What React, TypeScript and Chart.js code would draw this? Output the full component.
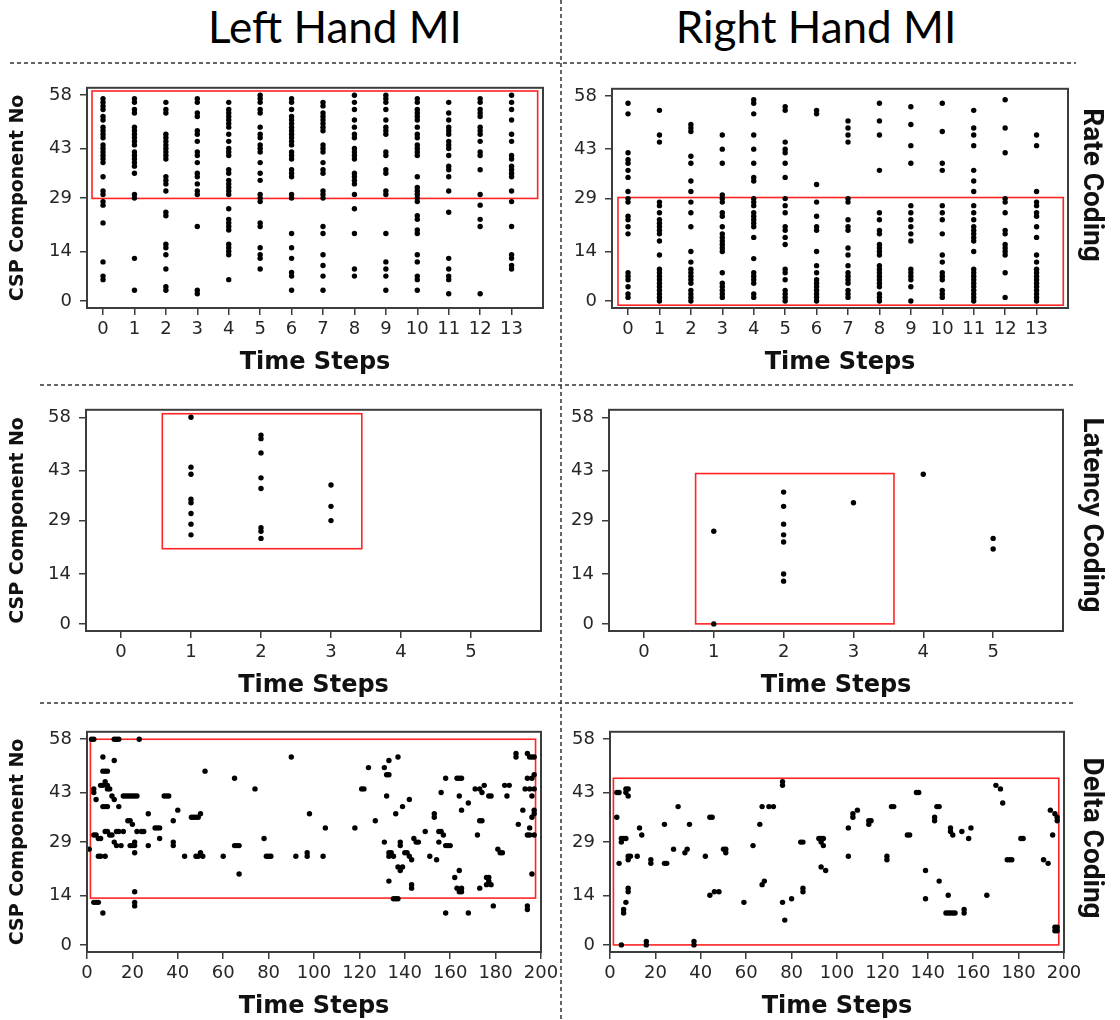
import React, { useEffect, useRef } from "react";
import { Chart, registerables } from "chart.js";

Chart.register(...registerables);

// ---------- tick labels ----------
const yTicks = [0, 14, 29, 43, 58];
const rateXTicks = [0, 1, 2, 3, 4, 5, 6, 7, 8, 9, 10, 11, 12, 13];
const latencyXTicks = [0, 1, 2, 3, 4, 5];
const deltaXTicks = [0, 20, 40, 60, 80, 100, 120, 140, 160, 180, 200];

const colTitles = ["Left Hand MI", "Right Hand MI"];
const rowTitles = ["Rate Coding", "Latency Coding", "Delta Coding"];

// ---------- Rate coding: spiking CSP components per time step ----------
const rateLeft: number[][] = [
  [57, 56, 55, 54, 52, 51, 49, 48, 47, 46, 44, 43, 42, 41, 40, 39, 35, 31, 30, 28, 27, 22, 11, 7, 6],
  [57, 56, 54, 53, 49, 48, 47, 46, 45, 44, 42, 41, 40, 39, 38, 36, 30, 29, 12, 3],
  [56, 54, 53, 47, 46, 45, 44, 43, 42, 41, 40, 35, 34, 33, 31, 25, 24, 16, 15, 13, 9, 4, 3],
  [57, 56, 53, 52, 48, 47, 45, 42, 41, 39, 36, 35, 33, 31, 30, 21, 3, 2],
  [56, 54, 53, 52, 51, 50, 49, 47, 45, 43, 42, 41, 37, 36, 34, 33, 32, 31, 30, 26, 23, 22, 21, 20, 16, 15, 14, 13, 6],
  [58, 57, 56, 54, 53, 49, 47, 46, 44, 43, 42, 39, 36, 34, 30, 29, 28, 22, 21, 15, 13, 12, 9],
  [57, 56, 54, 52, 51, 50, 49, 48, 47, 46, 45, 44, 42, 41, 40, 37, 36, 35, 30, 29, 19, 15, 12, 8, 7, 3],
  [56, 55, 53, 52, 51, 50, 49, 48, 44, 43, 42, 39, 37, 36, 31, 30, 29, 21, 19, 13, 10, 7, 3],
  [58, 56, 54, 51, 49, 47, 46, 43, 42, 41, 40, 36, 35, 34, 33, 30, 26, 19, 9, 7],
  [58, 57, 56, 54, 51, 49, 48, 47, 42, 41, 37, 36, 31, 30, 19, 11, 9, 7, 3],
  [57, 56, 54, 53, 52, 51, 49, 47, 46, 44, 43, 42, 41, 35, 32, 31, 30, 29, 28, 24, 23, 20, 19, 13, 11, 7, 6, 3],
  [56, 53, 51, 49, 48, 47, 45, 44, 43, 41, 38, 37, 35, 31, 25, 12, 9, 7, 6, 2],
  [57, 56, 54, 53, 52, 49, 48, 47, 45, 42, 41, 37, 30, 27, 23, 21, 2],
  [58, 56, 54, 51, 47, 45, 41, 40, 38, 37, 36, 35, 31, 28, 21, 13, 12, 10, 9],
];

const rateRight: number[][] = [
  [56, 53, 42, 40, 39, 37, 35, 31, 29, 28, 24, 23, 21, 19, 8, 7, 6, 4, 2, 1],
  [54, 47, 45, 28, 27, 25, 23, 22, 21, 20, 19, 17, 13, 9, 8, 7, 6, 5, 4, 3, 2, 1, 0],
  [50, 49, 48, 41, 39, 34, 31, 28, 25, 21, 14, 11, 9, 8, 7, 6, 5, 3, 2, 1, 0],
  [47, 43, 39, 30, 29, 28, 25, 24, 21, 19, 18, 17, 16, 15, 14, 8, 5, 4, 3, 2, 1],
  [57, 56, 53, 47, 43, 39, 35, 34, 29, 28, 27, 25, 24, 23, 22, 21, 18, 12, 8, 7, 6, 5, 2, 1],
  [55, 54, 45, 43, 42, 39, 35, 29, 27, 25, 21, 20, 18, 16, 9, 8, 6, 3, 2, 1, 0],
  [54, 53, 33, 28, 24, 21, 20, 14, 10, 8, 6, 5, 4, 3, 2, 1, 0],
  [51, 49, 47, 45, 29, 28, 23, 21, 20, 15, 13, 10, 8, 7, 6, 5, 3, 2, 1],
  [56, 51, 47, 37, 25, 23, 20, 19, 16, 15, 14, 13, 10, 9, 8, 7, 6, 5, 4, 2, 1, 0],
  [55, 50, 44, 39, 27, 25, 23, 21, 19, 17, 9, 8, 7, 6, 4, 0],
  [56, 48, 39, 37, 27, 25, 23, 19, 13, 11, 8, 7, 6, 3, 2, 1],
  [54, 49, 47, 44, 37, 34, 31, 27, 25, 23, 21, 20, 19, 18, 17, 14, 9, 8, 7, 6, 5, 4, 3, 2, 1, 0],
  [57, 49, 42, 29, 28, 25, 20, 19, 16, 15, 14, 13, 8, 1],
  [47, 44, 31, 28, 27, 25, 24, 21, 18, 13, 11, 9, 8, 7, 6, 5, 4, 3, 2, 1, 0],
];

// ---------- Latency coding ----------
const latencyLeft: number[][] = [
  [],
  [58, 44, 42, 35, 34, 31, 28, 25],
  [53, 52, 48, 41, 38, 27, 26, 24],
  [39, 33, 29],
  [],
  [],
];
const latencyRight: number[][] = [
  [],
  [26, 0],
  [37, 33, 28, 25, 23, 14, 12],
  [34],
  [42],
  [24, 21],
];

// ---------- Delta coding: [time step, component] ----------
const deltaLeft: [number, number][] = [
  [2, 58], [3, 58], [12, 58], [13, 58], [14, 58], [23, 58],
  [3, 44], [3, 43], [1, 27], [4, 41], [3, 31], [4, 31], [5, 30], [6, 30], [3, 12], [4, 12], [5, 12],
  [5, 25], [6, 25], [8, 25], [7, 9], [7, 53], [7, 49], [8, 49], [9, 49], [7, 45], [8, 46], [9, 45],
  [6, 45], [9, 44], [10, 44], [7, 39], [8, 39], [9, 39], [8, 32], [9, 32], [10, 31], [11, 31],
  [12, 52], [11, 42], [12, 41], [14, 39], [12, 29], [13, 28], [15, 28], [13, 32], [14, 32], [16, 32],
  [16, 42], [17, 42], [18, 42], [19, 42], [20, 42], [21, 42], [22, 42], [18, 35], [19, 35], [20, 34],
  [19, 28], [20, 28], [21, 28], [21, 29], [21, 26], [21, 15], [21, 12], [21, 11], [22, 32], [24, 32],
  [25, 32], [27, 37], [27, 28], [30, 33], [31, 33], [32, 33], [32, 30], [34, 42], [35, 42], [36, 42],
  [38, 29], [38, 28], [38, 35], [40, 38], [43, 25], [46, 36], [47, 36], [48, 36], [49, 36], [50, 37],
  [48, 25], [49, 25], [50, 26], [51, 25], [52, 49], [60, 25], [65, 47], [65, 28], [66, 28], [67, 28],
  [67, 20], [74, 44], [78, 30], [79, 25], [80, 25], [81, 25], [90, 53], [92, 25], [97, 26], [97, 25],
  [98, 37], [104, 25], [105, 33], [118, 33], [121, 44], [122, 44], [124, 50], [127, 35], [131, 50],
  [131, 29], [133, 52], [137, 53], [132, 48], [133, 48], [132, 42], [133, 26], [134, 26], [133, 25],
  [135, 25], [133, 18], [136, 37], [135, 13], [136, 13], [137, 13], [137, 22], [138, 21], [139, 22],
  [138, 29], [138, 28], [139, 39], [140, 26], [141, 26], [142, 25], [143, 24], [142, 41], [143, 17],
  [143, 16], [144, 30], [145, 29], [146, 29], [149, 32], [151, 25], [153, 37], [153, 36], [154, 24],
  [155, 32], [156, 32], [157, 31], [155, 29], [156, 43], [158, 28], [159, 28], [160, 28], [158, 47],
  [158, 9], [162, 19], [163, 47], [164, 47], [165, 47], [164, 42], [164, 21], [163, 16], [164, 15],
  [165, 16], [165, 15], [165, 38], [168, 40], [168, 9], [171, 44], [173, 44], [172, 31], [173, 35],
  [174, 35], [173, 16], [174, 43], [175, 45], [176, 19], [177, 18], [178, 17], [176, 17], [177, 19],
  [177, 42], [178, 42], [179, 11], [181, 27], [182, 26], [183, 26], [184, 45], [186, 45], [185, 42],
  [189, 54], [189, 53], [190, 34], [192, 38], [194, 11], [194, 10], [194, 54], [195, 53], [196, 53],
  [197, 53], [194, 47], [196, 47], [197, 48], [193, 44], [195, 44], [197, 44], [196, 42], [197, 38],
  [197, 37], [196, 36], [195, 33], [194, 31], [195, 31], [197, 31], [196, 20],
];

const deltaRight: [number, number][] = [
  [3, 43], [4, 43], [7, 44], [8, 44], [7, 43], [8, 42], [3, 36], [5, 30], [6, 30], [7, 30], [5, 29],
  [4, 23], [8, 25], [9, 25], [8, 24], [8, 16], [8, 15], [7, 12], [6, 10], [6, 9], [5, 0], [12, 25],
  [13, 33], [14, 31], [16, 1], [16, 0], [18, 24], [18, 23], [24, 23], [25, 23], [24, 34], [28, 27],
  [30, 39], [33, 26], [34, 27], [35, 34], [37, 1], [37, 0], [42, 25], [44, 36], [45, 36], [44, 14],
  [46, 15], [48, 15], [50, 27], [51, 27], [51, 26], [59, 12], [63, 28], [66, 34], [67, 39], [67, 17],
  [68, 18], [70, 39], [72, 39], [76, 46], [76, 45], [76, 12], [77, 7], [80, 13], [84, 29], [85, 29],
  [85, 16], [85, 15], [92, 30], [93, 30], [93, 29], [94, 28], [94, 30], [93, 22], [95, 21], [105, 33],
  [105, 25], [107, 37], [107, 36], [109, 38], [114, 35], [115, 35], [114, 34], [122, 25], [122, 24],
  [124, 39], [125, 39], [131, 31], [132, 31], [135, 43], [136, 43], [139, 21], [139, 13], [143, 36],
  [143, 35], [144, 39], [145, 39], [145, 18], [149, 14], [148, 9], [149, 9], [150, 9], [151, 9],
  [152, 9], [150, 33], [150, 32], [151, 31], [155, 32], [156, 10], [156, 9], [158, 30], [159, 33],
  [166, 14], [170, 45], [172, 44], [173, 40], [175, 24], [176, 24], [177, 24], [181, 30], [182, 30],
  [191, 24], [193, 23], [194, 38], [196, 37], [197, 36], [197, 35], [195, 31], [196, 5], [197, 5],
  [196, 4], [197, 4],
];

// ---------- highlighted regions: [xMin, xMax, yMin, yMax] in data units ----------
const rateLeftBox = [-0.35, 13.83, 28.9, 59.2];
const rateRightBox = [-0.32, 13.85, -1.2, 29.3];
const latencyLeftBox = [0.59, 3.44, 21.1, 59.0];
const latencyRightBox = [0.74, 3.58, 0, 42.2];
const deltaLeftBox = [1.5, 197.6, 13.2, 58.0];
const deltaRightBox = [1.5, 197.7, 0, 47.0];

// axis ranges
const rateXRange = [-0.51, 14.0];
const latencyXRange = [-0.5, 6.0];
const deltaXRange = [0, 200];
const yRange = [-2, 60.1];

const columnsToPoints = (cols: number[][]) =>
  cols.flatMap((ys, x) => ys.map((y) => ({ x, y })));
const pairsToPoints = (pairs: [number, number][]) => pairs.map(([x, y]) => ({ x, y }));

const frameBoxPlugin = {
  id: "frameBox",
  beforeDatasetsDraw(chart: any, _args: any, opts: any) {
    const box = opts && opts.box;
    if (!box) return;
    const { ctx } = chart;
    const xs = chart.scales.x;
    const ys = chart.scales.y;
    const x1 = xs.getPixelForValue(box[0]);
    const x2 = xs.getPixelForValue(box[1]);
    const y1 = ys.getPixelForValue(box[3]);
    const y2 = ys.getPixelForValue(box[2]);
    ctx.save();
    ctx.strokeStyle = "#ff2424";
    ctx.lineWidth = 1.6;
    ctx.strokeRect(x1, y1, x2 - x1, y2 - y1);
    ctx.restore();
  },
  afterDraw(chart: any) {
    const { ctx, chartArea: a } = chart;
    ctx.save();
    ctx.strokeStyle = "#3c3c3c";
    ctx.lineWidth = 2;
    ctx.strokeRect(a.left, a.top, a.right - a.left, a.bottom - a.top);
    ctx.restore();
  },
};

type Area = { l: number; t: number; r: number; b: number };

function Panel(props: {
  area: Area;
  canvasLeft: number;
  points: { x: number; y: number }[];
  xRange: number[];
  xTicks: number[];
  box: number[];
  yTitle: boolean;
}) {
  const { area, canvasLeft, points, xRange, xTicks, box, yTitle } = props;
  const ref = useRef<HTMLCanvasElement>(null);
  const T = 14;
  const R = 26;
  const B = 72;
  const L = area.l - canvasLeft;
  const width = area.r + R - canvasLeft;
  const height = area.b + B - (area.t - T);

  useEffect(() => {
    const tickFont = { family: "'DejaVu Sans', sans-serif", size: 18 };
    const chart = new Chart(ref.current as HTMLCanvasElement, {
      type: "scatter",
      data: {
        datasets: [
          {
            data: points,
            pointRadius: 2.7,
            pointHoverRadius: 2.7,
            backgroundColor: "#000",
            borderWidth: 0,
          },
        ],
      },
      options: {
        responsive: false,
        animation: false,
        devicePixelRatio: 1,
        events: [],
        layout: { padding: { left: 0, top: T, right: R, bottom: 0 } },
        plugins: {
          legend: { display: false },
          tooltip: { enabled: false },
          frameBox: { box },
        } as any,
        scales: {
          x: {
            type: "linear",
            min: xRange[0],
            max: xRange[1],
            afterBuildTicks: (s: any) => {
              s.ticks = xTicks.map((v) => ({ value: v }));
            },
            afterFit: (s: any) => {
              s.height = B;
            },
            grid: {
              drawOnChartArea: false,
              drawTicks: true,
              tickLength: 7,
              color: "#3c3c3c",
              lineWidth: 1.5,
            },
            border: { display: false },
            ticks: {
              padding: 4,
              color: "#262626",
              font: tickFont,
              autoSkip: false,
              maxRotation: 0,
              callback: (v: any) => String(v),
            },
            title: {
              display: true,
              text: "Time Steps",
              color: "#111",
              font: { family: "'DejaVu Sans', sans-serif", size: 24, weight: "bold" },
              padding: { top: 0, bottom: 3 },
            },
          },
          y: {
            type: "linear",
            min: yRange[0],
            max: yRange[1],
            afterBuildTicks: (s: any) => {
              s.ticks = yTicks.map((v) => ({ value: v }));
            },
            afterFit: (s: any) => {
              s.width = L;
            },
            grid: {
              drawOnChartArea: false,
              drawTicks: true,
              tickLength: 7,
              color: "#3c3c3c",
              lineWidth: 1.5,
            },
            border: { display: false },
            ticks: {
              padding: 8,
              color: "#262626",
              font: tickFont,
              autoSkip: false,
              callback: (v: any) => String(v),
            },
            title: {
              display: yTitle,
              text: "CSP Component No",
              color: "#111",
              font: { family: "'DejaVu Sans', sans-serif", size: 19, weight: "bold" },
              padding: { top: 7, bottom: 0 },
            },
          },
        },
      } as any,
      plugins: [frameBoxPlugin as any],
    });
    return () => chart.destroy();
  }, []);

  return (
    <canvas
      ref={ref}
      width={width}
      height={height}
      style={{
        position: "absolute",
        left: canvasLeft,
        top: area.t - T,
        width,
        height,
      }}
    />
  );
}

export default function App() {
  const titleStyle: React.CSSProperties = {
    position: "absolute",
    top: 4,
    transform: "translateX(-50%)",
    fontFamily: "Lato, 'Open Sans', sans-serif",
    fontSize: 44,
    lineHeight: "44px",
    color: "#000",
    whiteSpace: "nowrap",
  };
  const rowStyle = (cy: number): React.CSSProperties => ({
    position: "absolute",
    left: 1093,
    top: cy,
    transform: "translate(-50%, -50%) rotate(90deg)",
    fontFamily: "Roboto, 'Liberation Sans', sans-serif",
    fontWeight: 700,
    fontSize: 28,
    lineHeight: "30px",
    color: "#111",
    whiteSpace: "nowrap",
  });
  const dash = { stroke: "#333", strokeWidth: 1.5, strokeDasharray: "4 3" };

  return (
    <div
      style={{
        position: "absolute",
        left: 0,
        top: 0,
        width: 1120,
        height: 1020,
        background: "#fff",
        overflow: "hidden",
      }}
    >
      <svg width={1120} height={1020} style={{ position: "absolute", left: 0, top: 0 }}>
        <line x1={561} y1={0} x2={561} y2={1020} {...dash} />
        <line x1={10} y1={63} x2={1076} y2={63} {...dash} />
        <line x1={40} y1={385} x2={1076} y2={385} {...dash} />
        <line x1={40} y1={703} x2={1076} y2={703} {...dash} />
      </svg>

      <div style={{ ...titleStyle, left: 335 }}>{colTitles[0]}</div>
      <div style={{ ...titleStyle, left: 816 }}>{colTitles[1]}</div>

      <Panel
        area={{ l: 87, t: 83, r: 543, b: 308 }}
        canvasLeft={0}
        points={columnsToPoints(rateLeft)}
        xRange={rateXRange}
        xTicks={rateXTicks}
        box={rateLeftBox}
        yTitle={true}
      />
      <Panel
        area={{ l: 612, t: 84, r: 1068, b: 308 }}
        canvasLeft={562}
        points={columnsToPoints(rateRight)}
        xRange={rateXRange}
        xTicks={rateXTicks}
        box={rateRightBox}
        yTitle={false}
      />
      <Panel
        area={{ l: 86, t: 405, r: 541, b: 631 }}
        canvasLeft={0}
        points={columnsToPoints(latencyLeft)}
        xRange={latencyXRange}
        xTicks={latencyXTicks}
        box={latencyLeftBox}
        yTitle={true}
      />
      <Panel
        area={{ l: 609, t: 405, r: 1063, b: 631 }}
        canvasLeft={562}
        points={columnsToPoints(latencyRight)}
        xRange={latencyXRange}
        xTicks={latencyXTicks}
        box={latencyRightBox}
        yTitle={false}
      />
      <Panel
        area={{ l: 87, t: 727, r: 541, b: 952 }}
        canvasLeft={0}
        points={pairsToPoints(deltaLeft)}
        xRange={deltaXRange}
        xTicks={deltaXTicks}
        box={deltaLeftBox}
        yTitle={true}
      />
      <Panel
        area={{ l: 610, t: 727, r: 1064, b: 952 }}
        canvasLeft={562}
        points={pairsToPoints(deltaRight)}
        xRange={deltaXRange}
        xTicks={deltaXTicks}
        box={deltaRightBox}
        yTitle={false}
      />

      <div style={rowStyle(185)}>{rowTitles[0]}</div>
      <div style={rowStyle(515)}>{rowTitles[1]}</div>
      <div style={rowStyle(838)}>{rowTitles[2]}</div>
    </div>
  );
}
